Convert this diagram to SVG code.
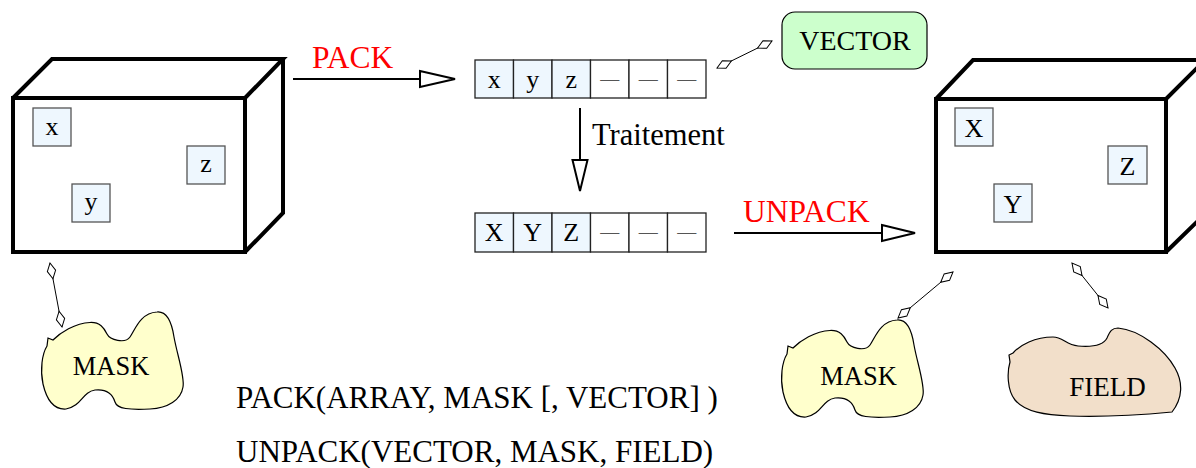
<svg xmlns="http://www.w3.org/2000/svg" width="1196" height="468" viewBox="0 0 1196 468">
<style>
text{font-family:"Liberation Serif","Times New Roman",serif;fill:#000}
.box{fill:none;stroke:#000;stroke-width:4;stroke-linejoin:miter}
.cell{fill:#fff;stroke:#222;stroke-width:1.3}
.cellb{fill:#eef7fe;stroke:#222;stroke-width:1.3}
.sq{fill:#eef7fe;stroke:#555;stroke-width:1.3}
.lt{font-size:26px;text-anchor:middle}
.dash{font-size:19px;text-anchor:middle;fill:#555}
.red{fill:#ff0000;font-size:31.5px}
.big{font-size:31px}
.trt{font-size:30.5px}
.lab{font-size:26.5px;text-anchor:middle}
.arr{stroke:#000;stroke-width:2;fill:none}
.head{fill:#fff;stroke:#000;stroke-width:2;stroke-linejoin:miter}
.thin{stroke:#000;stroke-width:1;fill:none;marker-start:url(#dia);marker-end:url(#dia)}
.blob{stroke:#000;stroke-width:1.2}
</style>
<defs>
<marker id="dia" markerUnits="userSpaceOnUse" markerWidth="18" markerHeight="12" viewBox="-1 -6 18 12" refX="16" refY="0" orient="auto-start-reverse">
<path d="M0,0 L8,-4.2 L16,0 L8,4.2 Z" fill="#fff" stroke="#000" stroke-width="1"/>
</marker>
<path id="maskshape" d="M793,348 C800,341 815,331 830,330.5 C840,330 844,336 847,342 C850,348 865,352 870,345 C875,338 880,321 897,320 C908,319 912,332 914,345 C917,362 925,385 923,395 C921,408 908,416 890,417 C870,418 857,417 855,410 C852,400 845,397 835,398 C822,400 822,414 806,417 C792,418 786,405 783,392 C780,378 782,362 787,354 L788,346 Z"/>
</defs>

<g id="array-box">
<rect x="13" y="98" width="232" height="154" class="box"/>
<polyline points="13,98 52,59 283,59 245,98" class="box"/>
<polyline points="283,59 283,213 245,252" class="box"/>
<rect x="33" y="108" width="38" height="38" class="sq"/>
<text x="52" y="135" class="lt">x</text>
<rect x="187" y="146" width="38" height="38" class="sq"/>
<text x="206" y="172" class="lt">z</text>
<rect x="72" y="184" width="38" height="38" class="sq"/>
<text x="91" y="210" class="lt">y</text>
</g>

<g id="vector-packed">
<rect x="475" y="60" width="38.5" height="38" class="cellb"/>
<rect x="513.5" y="60" width="38.5" height="38" class="cellb"/>
<rect x="552" y="60" width="38.5" height="38" class="cellb"/>
<rect x="590.5" y="60" width="38.5" height="38" class="cell"/>
<rect x="629" y="60" width="38.5" height="38" class="cell"/>
<rect x="667.5" y="60" width="38.5" height="38" class="cell"/>
<text x="494.25" y="88" class="lt">x</text>
<text x="532.75" y="88" class="lt">y</text>
<text x="571.25" y="88" class="lt">z</text>
<text x="609.75" y="85" class="dash">—</text>
<text x="648.25" y="85" class="dash">—</text>
<text x="686.75" y="85" class="dash">—</text>
</g>

<g id="vector-treated">
<rect x="475" y="213" width="38.5" height="39" class="cellb"/>
<rect x="513.5" y="213" width="38.5" height="39" class="cellb"/>
<rect x="552" y="213" width="38.5" height="39" class="cellb"/>
<rect x="590.5" y="213" width="38.5" height="39" class="cell"/>
<rect x="629" y="213" width="38.5" height="39" class="cell"/>
<rect x="667.5" y="213" width="38.5" height="39" class="cell"/>
<text x="494.25" y="241" class="lt">X</text>
<text x="532.75" y="241" class="lt">Y</text>
<text x="571.25" y="241" class="lt">Z</text>
<text x="609.75" y="238" class="dash">—</text>
<text x="648.25" y="238" class="dash">—</text>
<text x="686.75" y="238" class="dash">—</text>
</g>

<g id="vector-node">
<rect x="782" y="12" width="145" height="57" rx="13" ry="13" fill="#ccffcc" stroke="#000" stroke-width="1.2"/>
<text x="855" y="50" class="lab" style="font-size:28px">VECTOR</text>
</g>

<g id="result-box">
<rect x="936" y="99" width="230" height="153" class="box"/>
<polyline points="936,99 973,60 1205,60 1166,99" class="box"/>
<polyline points="1205,60 1205,214 1166,252" class="box"/>
<rect x="955" y="108" width="38" height="38" class="sq"/>
<text x="974" y="137" class="lt">X</text>
<rect x="1108" y="146" width="39" height="38" class="sq"/>
<text x="1127.5" y="175" class="lt">Z</text>
<rect x="994" y="184" width="38" height="38" class="sq"/>
<text x="1013" y="213" class="lt">Y</text>
</g>

<g id="mask-left">
<use href="#maskshape" transform="translate(-740,-8)" fill="#ffffcc" class="blob"/>
<text x="111" y="375" class="lab">MASK</text>
</g>

<g id="mask-right">
<use href="#maskshape" fill="#ffffcc" class="blob"/>
<text x="858.5" y="385" class="lab">MASK</text>
</g>

<g id="field">
<path d="M1013,353 C1020,345 1035,337 1053,337 C1063,337 1066,345 1078,346 C1090,347 1103,346 1107,338 C1110,331 1112,328 1118,328 C1140,330 1165,350 1175,368 C1183,382 1183,398 1172,412 C1140,415 1100,417 1070,416 C1045,415 1025,412 1015,400 C1007,390 1007,372 1010,362 L1009,355 Z" fill="#f2dfca" class="blob"/>
<text x="1107.5" y="396" class="lab" style="font-size:27px">FIELD</text>
</g>

<g id="connectors">
<line x1="293" y1="79" x2="420" y2="79" class="arr"/>
<polygon points="420,71 455,79 420,87" class="head"/>
<text x="312" y="68" class="red">PACK</text>
<line x1="580" y1="108" x2="580" y2="160" class="arr"/>
<polygon points="572.5,160 580,191 587.5,160" class="head"/>
<text x="592" y="145" class="trt">Traitement</text>
<line x1="734" y1="233" x2="882" y2="233" class="arr"/>
<polygon points="882,225 915,233 882,241" class="head"/>
<text x="743" y="222" class="red">UNPACK</text>
<line x1="717" y1="68" x2="772" y2="41" class="thin"/>
<line x1="50" y1="263" x2="62" y2="327" class="thin"/>
<line x1="898" y1="318" x2="953" y2="272" class="thin"/>
<line x1="1072" y1="263" x2="1108" y2="308" class="thin"/>
</g>

<text x="236" y="408" class="big">PACK(ARRAY, MASK [, VECTOR] )</text>
<text x="236" y="462" class="big">UNPACK(VECTOR, MASK, FIELD)</text>
</svg>
